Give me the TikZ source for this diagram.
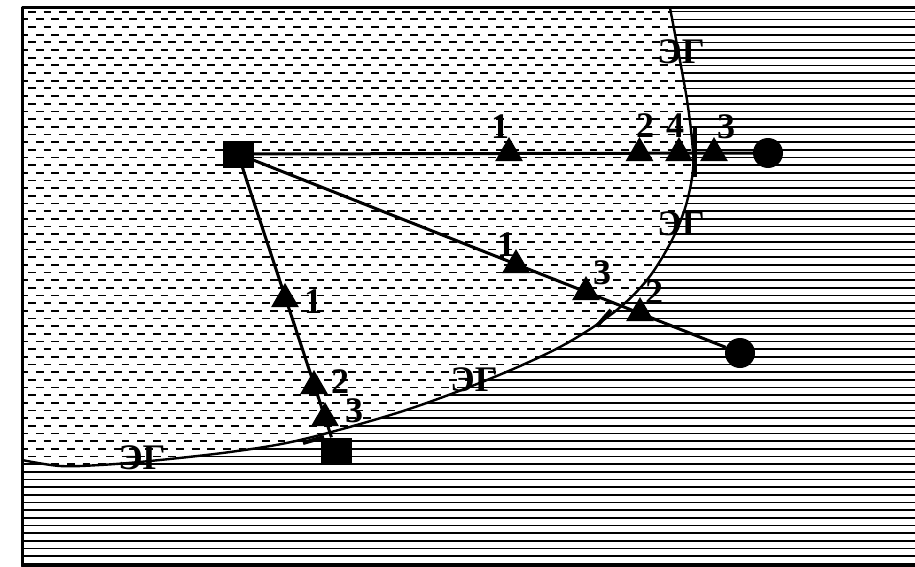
\documentclass[tikz,border=0pt]{standalone}
\usepackage{fontspec}
\setmainfont{Liberation Serif}
\usetikzlibrary{shapes.geometric}
\begin{document}
\begin{tikzpicture}[x=1pt, y=-1pt, line join=round, >=stealth,
		sq/.style={fill=black, minimum width=31pt, minimum height=27pt, inner sep=0pt},
		dot/.style={circle, fill=black, minimum size=30pt, inner sep=0pt},
		tri/.style={regular polygon, regular polygon sides=3, fill=black, minimum size=32pt, inner sep=0pt},
		num/.style={font=\fontsize{36}{36}\selectfont\bfseries, inner sep=0pt},
		eg/.style={font=\fontsize{36}{36}\selectfont\bfseries, inner sep=0pt},
		ray/.style={line width=3pt},
		tick/.style={line width=4pt}]
	\def\dy{7.67}  % шаг штриховки
	\def\yo{11.7}
	\useasboundingbox (0,0) rectangle (915,567);
	% сплошная штриховка
	\foreach \k in {0,...,72} \draw[line width=1.6pt] (22,\yo+\dy*\k) -- (915,\yo+\dy*\k);
	% пунктирная зона
	\begin{scope}
		\clip (22,8) -- plot[smooth, tension=0.55] coordinates {(670,8) (678,50) (687,100) (692,140) (693,170) (686,205) (672,240) (647,280) (613,313) (560,347) (487,380) (400,412) (300,440) (230,452) (150,461) (100,465) (60,466) (22,460)} -- cycle;
		\fill[white] (0,0) rectangle (915,567);
		\foreach \k in {0,...,61} {
			\pgfmathsetmacro\ph{mod(\k,2)*7.8+9.6}
			\draw[line width=1.8pt, dash pattern=on 7.7pt off 7.9pt, dash phase=\ph pt] (22,\yo+\dy*\k) -- (710,\yo+\dy*\k);
		}
	\end{scope}
	\draw[line width=2.4pt] plot[smooth, tension=0.55] coordinates {(670,8) (678,50) (687,100) (692,140) (693,170) (686,205) (672,240) (647,280) (613,313) (560,347) (487,380) (400,412) (300,440) (230,452) (150,461) (100,465) (60,466) (22,460)};
	\draw[line width=3pt] (22,8) rectangle (935,566);
	% пункты
	\node[sq] (S1) at (238,154) {};
	\node[sq] (S2) at (336,451) {};
	\node[dot] (C1) at (768,153) {};
	\node[dot] (C2) at (740,353) {};
	\draw[ray] (S1) -- (C1);
	\draw[ray] (S1) -- (C2);
	\draw[ray] (S1) -- (S2);
	\draw[tick] (695,127) -- (695,177);
	\draw[tick] (597,326) -- (611,310);
	\draw[tick] (303,443) -- (324,437);
	% верхний луч
	\node[tri] (a1) at (509,153) {};
	\node[tri] (a2) at (639.5,153) {};
	\node[tri] (a4) at (679,153) {};
	\node[tri] (a3) at (714,153) {};
	\node[num] (na1) at (500,127) {1};
	\node[num] (na2) at (645,126) {2};
	\node[num] (na4) at (675,126) {4};
	\node[num] (na3) at (726,127) {3};
	% средний луч
	\node[tri] (b1) at (516,265) {};
	\node[tri] (b3) at (586,292) {};
	\node[tri] (b2) at (640,313) {};
	\node[num] (nb1) at (506,245) {1};
	\node[num] (nb3) at (602,273) {3};
	\node[num] (nb2) at (654,293) {2};
	% левый луч
	\node[tri] (c1) at (285,299) {};
	\node[tri] (c2) at (314,386) {};
	\node[tri] (c3) at (325,418) {};
	\node[num] (nc1) at (313,302) {1};
	\node[num] (nc2) at (340,382) {2};
	\node[num] (nc3) at (354,411) {3};
	% подписи границы
	\node[eg] (eg1) at (681,52) {ЭГ};
	\node[eg] (eg2) at (681,224) {ЭГ};
	\node[eg] (eg3) at (474,380) {ЭГ};
	\node[eg] (eg4) at (142,458) {ЭГ};
\end{tikzpicture}
\end{document}
